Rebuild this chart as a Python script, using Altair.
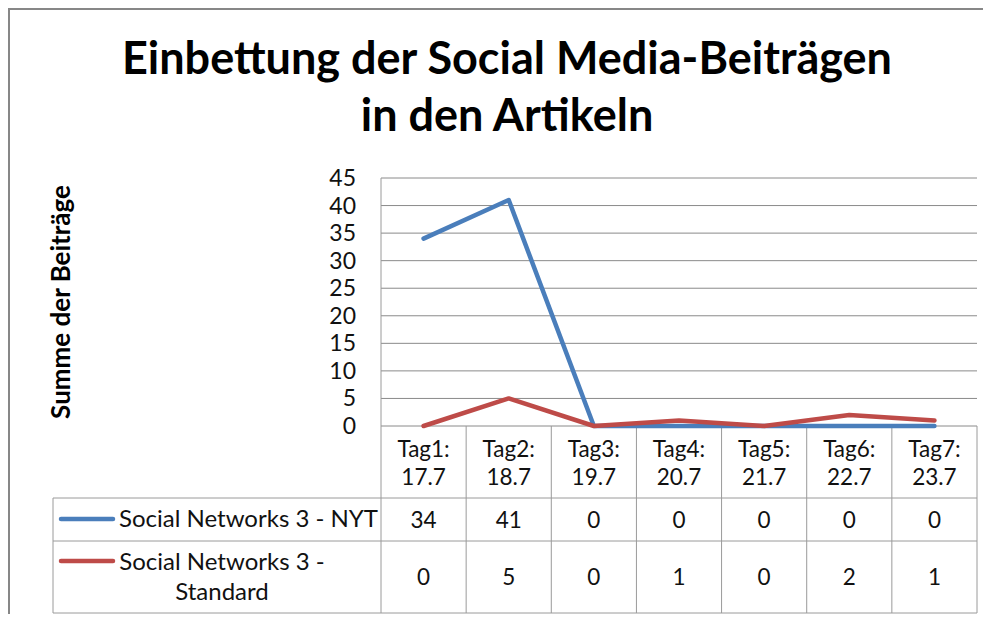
import altair as alt
import pandas as pd

# ---------------- data ----------------
tags = ["Tag1:", "Tag2:", "Tag3:", "Tag4:", "Tag5:", "Tag6:", "Tag7:"]
dates = ["17.7", "18.7", "19.7", "20.7", "21.7", "22.7", "23.7"]
series_names = ["Social Networks 3 - NYT", "Social Networks 3 - Standard"]
legend_labels = ["Social Networks 3 - NYT", "Social Networks 3 -\nStandard"]
nyt_values = [34, 41, 0, 0, 0, 0, 0]
standard_values = [0, 5, 0, 1, 0, 2, 1]
y_ticks = [0, 5, 10, 15, 20, 25, 30, 35, 40, 45]
title_lines = ["Einbettung der Social Media-Beiträgen", "in den Artikeln"]
y_title = "Summe der Beiträge"
colors = ["#4A7EBB", "#BE4B48"]

# ---------------- layout (page pixels) ----------------
W, H = 975, 606
ORG = 8                      # page margin
PL, PR = 381, 977            # plot left/right
P0, PTOP = 426, 178          # y of value 0 and of value 45
VMAX = 45
ncat = len(tags)
colw = (PR - PL) / ncat


def xi(px):  # page x -> category index units
    return (px - PL) / colw - 0.5


def yv(py):  # page y -> value units
    return (P0 - py) * VMAX / (P0 - PTOP)


xdom = [xi(ORG), xi(ORG + W)]
ydom = [yv(ORG + H), yv(ORG)]
X = lambda f="x": alt.X(f"{f}:Q", scale=alt.Scale(domain=xdom, nice=False, zero=False), axis=None)
Y = lambda f="y": alt.Y(f"{f}:Q", scale=alt.Scale(domain=ydom, nice=False, zero=False), axis=None)

color_scale = alt.Scale(domain=series_names, range=colors)
FONT = "Lato"
GRID = "#8a8a8a"
TABLE = "#9a9a9a"
TXT = "#111111"

x_left, x_right = -0.5, ncat - 0.5
y_hdr = yv(498)
y_row1 = yv(541)
y_bot = yv(613)
x_leg = xi(53)

# ---------------- marks ----------------
grid_df = pd.DataFrame({"y": y_ticks, "x": x_left, "x2": x_right})
grid = alt.Chart(grid_df).mark_rule(color=GRID, strokeWidth=1).encode(
    x=X(), x2="x2", y=Y())

tick_lbl = alt.Chart(pd.DataFrame({"y": y_ticks, "x": x_left, "t": [str(t) for t in y_ticks]})).mark_text(
    align="right", baseline="middle", dx=-25, dy=1, font=FONT, fontSize=23, color=TXT
).encode(x=X(), y=Y(), text="t:N")

rows = []
for i in range(ncat):
    rows.append({"x": i, "y": nyt_values[i], "s": series_names[0]})
for i in range(ncat):
    rows.append({"x": i, "y": standard_values[i], "s": series_names[1]})
line_df = pd.DataFrame(rows)
lines = alt.Chart(line_df).mark_line(strokeWidth=4.5, strokeCap="round", strokeJoin="round").encode(
    x=X(), y=Y(), color=alt.Color("s:N", scale=color_scale, legend=None), detail="s:N")

# table lines
vrows = [{"x": x_left, "y": VMAX, "y2": y_bot}]
for k in range(1, ncat + 1):
    vrows.append({"x": k - 0.5, "y": 0, "y2": y_bot})
vrows.append({"x": x_leg, "y": y_hdr, "y2": y_bot})
vlines = alt.Chart(pd.DataFrame(vrows)).mark_rule(color=TABLE, strokeWidth=1).encode(
    x=X(), y=Y(), y2="y2")
hrows = [{"y": y_hdr, "x": x_leg, "x2": x_right},
         {"y": y_row1, "x": x_leg, "x2": x_right},
         {"y": y_bot, "x": x_leg, "x2": x_right}]
hlines = alt.Chart(pd.DataFrame(hrows)).mark_rule(color=TABLE, strokeWidth=1).encode(
    x=X(), x2="x2", y=Y())

hdr_df = pd.DataFrame({"x": list(range(ncat)), "y": yv(457),
                       "t": [f"{a}\n{b}" for a, b in zip(tags, dates)]})
hdr = alt.Chart(hdr_df).mark_text(
    align="center", baseline="alphabetic", lineBreak="\n", lineHeight=28,
    font=FONT, fontSize=22.5, color=TXT
).encode(x=X(), y=Y(), text="t:N")

val_rows = []
for i in range(ncat):
    val_rows.append({"x": i, "y": yv(528), "t": str(nyt_values[i])})
    val_rows.append({"x": i, "y": yv(585), "t": str(standard_values[i])})
vals = alt.Chart(pd.DataFrame(val_rows)).mark_text(
    align="center", baseline="alphabetic", font=FONT, fontSize=22.5, color=TXT
).encode(x=X(), y=Y(), text="t:N")

sym_df = pd.DataFrame({"x": xi(61), "x2": xi(113), "y": [yv(519), yv(561)], "s": series_names})
syms = alt.Chart(sym_df).mark_rule(strokeWidth=4.5, strokeCap="round").encode(
    x=X(), x2="x2", y=Y(), color=alt.Color("s:N", scale=color_scale, legend=None))

leg1 = alt.Chart(pd.DataFrame({"x": [xi(119)], "y": [yv(527)], "t": [legend_labels[0]]})).mark_text(
    align="left", baseline="alphabetic", font=FONT, fontSize=24, color=TXT
).encode(x=X(), y=Y(), text="t:N")
leg2 = alt.Chart(pd.DataFrame({"x": [xi(222)], "y": [yv(570)], "t": [legend_labels[1]]})).mark_text(
    align="center", baseline="alphabetic", lineBreak="\n", lineHeight=30,
    font=FONT, fontSize=24, color=TXT
).encode(x=X(), y=Y(), text="t:N")

ytitle = alt.Chart(pd.DataFrame({"x": [xi(62)], "y": [yv(302)], "t": [y_title]})).mark_text(
    align="center", baseline="middle", angle=270, font=FONT, fontSize=26, fontWeight="bold", color="#000000"
).encode(x=X(), y=Y(), text="t:N")

title = alt.Chart(pd.DataFrame({"x": [xi(507)], "y": [yv(74)], "t": ["\n".join(title_lines)]})).mark_text(
    align="center", baseline="alphabetic", lineBreak="\n", lineHeight=57,
    font=FONT, fontSize=45, fontWeight="bold", color="#000000"
).encode(x=X(), y=Y(), text="t:N")

# outer frame (left and top edges)
frame_v = alt.Chart(pd.DataFrame({"x": [xi(9)], "y": [yv(8)], "y2": [yv(ORG + H)]})).mark_rule(
    color="#878787", strokeWidth=2).encode(x=X(), y=Y(), y2="y2")
frame_h = alt.Chart(pd.DataFrame({"x": [xi(8)], "x2": [xi(ORG + W)], "y": [yv(9)]})).mark_rule(
    color="#878787", strokeWidth=2).encode(x=X(), x2="x2", y=Y())

chart = alt.layer(
    grid, vlines, hlines, tick_lbl, lines, hdr, vals, syms, leg1, leg2, ytitle, title, frame_v, frame_h
).properties(
    width=W, height=H, padding=0, autosize="none", background="#ffffff"
).configure_view(stroke=None)

chart.save("out.html", embed_options={"renderer": "svg", "actions": False})
